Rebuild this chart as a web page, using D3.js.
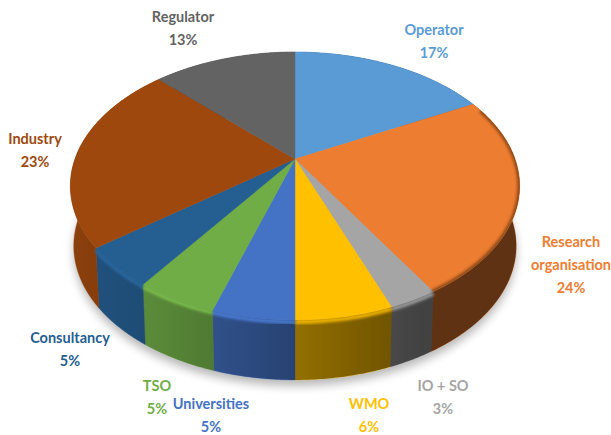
<!DOCTYPE html>
<html>
<head>
<meta charset="utf-8">
<script src="https://cdn.jsdelivr.net/npm/d3@7"></script>
<style>
    body { margin: 0; background: #fff; }
    svg { display: block; }
    text { font-family: Lato, "Open Sans", sans-serif; font-weight: 700; font-size: 14.5px; text-anchor: middle; }
</style>
</head>
<body>
<svg></svg>
<script>
var categories = ['Operator', 'Research organisation', 'IO + SO', 'WMO', 'Universities', 'TSO', 'Consultancy', 'Industry', 'Regulator'];
// slice sizes as they look in the picture, the printed percentages are below
var shares = [17.3, 24.0, 2.9, 5.8, 4.9, 4.9, 4.8, 22.9, 12.5];
var percentLabels = ['17%', '24%', '3%', '6%', '5%', '5%', '5%', '23%', '13%'];
var colors = ['#5b9bd5', '#ed7d31', '#a5a5a5', '#ffc000', '#4472c4', '#70ad47', '#255e91', '#9e480e', '#636363'];

// label lines and where each label block sits
var labelLines = [['Operator'], ['Research', 'organisation'], ['IO + SO'], ['WMO'], ['Universities'], ['TSO'], ['Consultancy'], ['Industry'], ['Regulator']];
var labelAnchors = [[434, 35], [571, 247], [443, 391], [369, 409], [211, 409], [157, 391], [70, 343], [35, 144], [183, 22]];

var width = 611;
var height = 435;
var depth = 60;
var lineGap = 23;

var svg = d3.select('svg').attr('width', width).attr('height', height);
var defs = svg.append('defs');

var x = d3.scaleLinear().domain([-1, 1]).range([75, 515]);
var y = d3.scaleLinear().domain([-1, 1]).range([30.5, 287.5]);
var color = d3.scaleOrdinal().domain(categories).range(colors);

// tilt of the disc, the near edge comes out bigger than the far edge
var tilt = 0.2015;

function project(angle, drop, shrink) {
    var ux = Math.sin(angle);
    var uy = -Math.cos(angle);
    var w = 1 - tilt * uy;
    return [x(0) + (x(ux / w) - x(0)) * shrink, y(uy / w) + drop];
}

function rimPoints(a0, a1, drop, shrink) {
    var steps = d3.range(a0, a1, 0.01).concat([a1]);
    return steps.map(function (a) { return project(a, drop, shrink); });
}

var line = d3.line();
var pie = d3.pie().sort(null)
    .value(function (d) { return d.share; })
    .startAngle(0)
    .endAngle(2 * Math.PI);

var rows = categories.map(function (c, i) {
    return { name: c, share: shares[i], percent: percentLabels[i], lines: labelLines[i], at: labelAnchors[i] };
});
var slices = pie(rows);

function midAngle(d) {
    return (d.startAngle + d.endAngle) / 2;
}

function wallPath(a0, a1) {
    var upper = rimPoints(a0, a1, 0, 1);
    var lower = rimPoints(a0, a1, depth, 0.985).reverse();
    return line(upper.concat(lower)) + 'Z';
}

function wedgePath(d) {
    return line([[x(0), y(0)]].concat(rimPoints(d.startAngle, d.endAngle, 0, 1))) + 'Z';
}

// filters
function blur(id, dev) {
    defs.append('filter').attr('id', id)
        .attr('x', '-20%').attr('y', '-20%').attr('width', '140%').attr('height', '140%')
        .append('feGaussianBlur').attr('stdDeviation', dev);
}
blur('soft', 5);
blur('rim', 1.6);

// walls get darker from left to right
var light = defs.append('linearGradient').attr('id', 'wallShade')
    .attr('gradientUnits', 'userSpaceOnUse')
    .attr('x1', 70).attr('x2', 520).attr('y1', 0).attr('y2', 0);
[[0, 0.12], [0.18, 0.2], [0.4, 0.35], [0.62, 0.5], [0.78, 0.6], [1, 0.6]].forEach(function (s) {
    light.append('stop').attr('offset', s[0]).attr('stop-color', '#000').attr('stop-opacity', s[1]);
});

defs.append('clipPath').attr('id', 'topClip')
    .append('path').attr('d', line(rimPoints(0, 2 * Math.PI, 0, 1)) + 'Z');

// shadow under the disc
svg.append('path')
    .attr('d', line(rimPoints(0, 2 * Math.PI, depth + 6, 0.985)) + 'Z')
    .attr('fill', '#000')
    .attr('opacity', 0.28)
    .attr('filter', 'url(#soft)');

svg.selectAll('.wall')
    .data(slices)
    .enter().append('path')
    .attr('class', 'wall')
    .attr('d', function (d) { return wallPath(d.startAngle, d.endAngle); })
    .attr('fill', function (d) { return color(d.data.name); })
    .attr('stroke', function (d) { return color(d.data.name); })
    .attr('stroke-width', 0.4);

svg.append('path')
    .attr('d', wallPath(0, 2 * Math.PI))
    .attr('fill', 'url(#wallShade)');

// bevel along the near rim, lit on the left side only
svg.selectAll('.rim')
    .data(slices.filter(function (d) { return midAngle(d) > 2.6 && midAngle(d) < 4.2; }))
    .enter().append('path')
    .attr('class', 'rim')
    .attr('d', function (d) { return line(rimPoints(d.startAngle, d.endAngle, 2, 1)); })
    .attr('fill', 'none')
    .attr('stroke', function (d) {
        var c = d3.color(color(d.data.name));
        return midAngle(d) > Math.PI ? c.brighter(0.35) : c;
    })
    .attr('stroke-width', 3.5)
    .attr('filter', 'url(#rim)');

svg.selectAll('.wedge')
    .data(slices)
    .enter().append('path')
    .attr('class', 'wedge')
    .attr('d', wedgePath)
    .attr('fill', function (d) { return color(d.data.name); })
    .attr('stroke', function (d) { return color(d.data.name); })
    .attr('stroke-width', 0.4);

// dark fade on the right hand side of the top face
svg.append('g').attr('clip-path', 'url(#topClip)')
    .append('path')
    .attr('d', line(rimPoints(1.15, 2.6, 0, 1)))
    .attr('fill', 'none')
    .attr('stroke', '#3a1c05')
    .attr('stroke-width', 4)
    .attr('opacity', 0.6)
    .attr('filter', 'url(#rim)');

// labels
var labels = svg.selectAll('.label')
    .data(slices)
    .enter().append('text')
    .attr('class', 'label')
    .attr('fill', function (d) { return color(d.data.name); });

labels.each(function (d) {
    var el = d3.select(this);
    d.data.lines.concat([d.data.percent]).forEach(function (t, i) {
        el.append('tspan')
            .attr('x', d.data.at[0])
            .attr('y', d.data.at[1] + i * lineGap)
            .text(t);
    });
});
</script>
</body>
</html>
